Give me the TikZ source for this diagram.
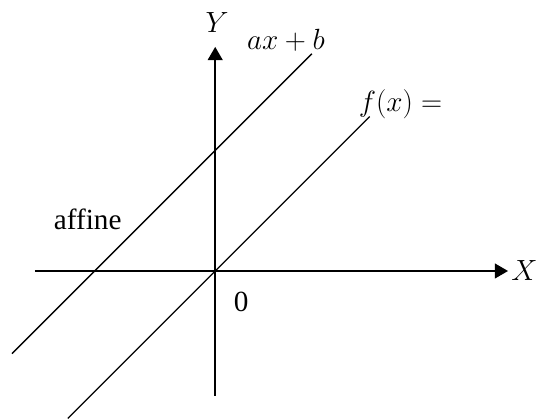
\RequirePackage{fix-cm}
\documentclass[tikz,border=0pt]{standalone}
\usepackage{fontspec}
\setmainfont{Liberation Serif}
\usetikzlibrary{arrows.meta}

\tikzset{
  axis/.style={line width=1.8pt},
  graph/.style={line width=1pt},
  lbl/.style={font=\fontsize{22}{26}\selectfont, inner sep=0pt}
}

\begin{document}
\begin{tikzpicture}[x=0.75pt, y=0.75pt, >={Triangle[length=10pt,width=11pt]}]
        \useasboundingbox (-216,-149) rectangle (323,272);
        % Axes
        \coordinate (O) at (0,0);
        \coordinate (xstart) at (-181,0);
        \coordinate (xend) at (294,0);
        \coordinate (ystart) at (0,-125);
        \coordinate (yend) at (0,225);
        \draw[->, axis] (xstart) -- (xend);
        \draw[->, axis] (ystart) -- (yend);
        \node[lbl, anchor=west] (xlabel) at (297,0) {$X$};
        \node[lbl] (ylabel) at (2,249) {$Y$};
        \node[lbl] (zero) at (26,-31) {0};

        % f(x) = x through the origin
        \def\b{121}
        \coordinate (fstart) at (-148,-148);
        \coordinate (fend) at (155,155);
        \draw[graph] (fstart) -- (fend);

        % affine line, shifted up by b
        \coordinate (gstart) at (-204,{-204+\b});
        \coordinate (gend) at (97,{97+\b});
        \draw[graph] (gstart) -- (gend);

        % Labels
        \node[lbl] (axb) at (71,232) {$ax+b$};
        \node[lbl] (fx) at (186,167) {$f(x)=$};
        \node[lbl] (affine) at (-128,52) {affine};
    \end{tikzpicture}
\end{document}
